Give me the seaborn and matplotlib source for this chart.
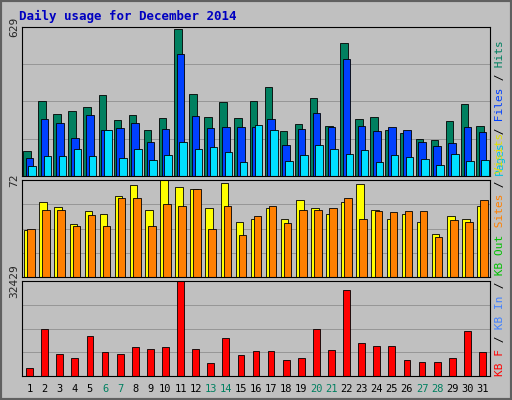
import numpy as np
import pandas as pd
import seaborn as sns
import matplotlib.pyplot as plt

days = list(range(1, 32))
hits = [105, 317, 262, 274, 291, 342, 236, 257, 194, 245, 620, 346, 249, 312, 245, 317,
        376, 190, 220, 329, 211, 561, 241, 249, 194, 182, 156, 152, 232, 304, 211]
files = [76, 241, 224, 160, 257, 194, 203, 224, 144, 198, 515, 253, 203, 207, 207, 207,
         241, 131, 198, 266, 207, 494, 211, 190, 207, 194, 144, 127, 139, 207, 186]
pages = [42, 84, 84, 114, 84, 194, 76, 114, 68, 89, 144, 114, 122, 101, 59, 215,
         194, 63, 89, 131, 114, 93, 110, 59, 89, 80, 72, 46, 93, 63, 68]
visits = [35, 56, 52, 39, 49, 47, 60, 68, 50, 72, 67, 65, 51, 70, 41, 43,
          51, 43, 57, 51, 47, 56, 69, 50, 43, 47, 41, 32, 45, 43, 53]
sites = [36, 50, 50, 38, 46, 38, 59, 59, 38, 54, 53, 65, 36, 53, 31, 45,
         53, 40, 50, 50, 51, 59, 43, 49, 48, 49, 49, 30, 42, 41, 57]
kbytes = [2820, 16200, 7400, 6000, 13700, 8100, 7400, 9900, 9100, 9900, 32429, 9100,
          4600, 13000, 7000, 8500, 8500, 5600, 6000, 15900, 8800, 29300, 11300, 10200,
          10200, 5600, 4900, 4900, 6300, 15500, 8100]
weekend = [6, 7, 13, 14, 20, 21, 27, 28]

sns.set_style("white")
plt.rcParams['font.family'] = ['DejaVu Sans Mono']
BG = "#C0C0C0"
fig = plt.figure(figsize=(5.12, 4.0), dpi=100, facecolor=BG)
fig.patches.append(plt.Rectangle((0, 0), 1, 1, transform=fig.transFigure,
                                 fill=False, edgecolor="#606060", lw=3))
fig.text(19 / 512, 1 - 16 / 400, "Daily usage for December 2014", color="#0000C0",
         fontsize=9, fontweight="bold", va="center")

def panel(top, bot):
    ax = fig.add_axes([22 / 512, 1 - bot / 400, 468 / 512, (bot - top) / 400])
    ax.set_facecolor(BG)
    for s in ax.spines.values():
        s.set_color("black")
    ax.set_xlim(0.5, 31.5)
    return ax

def bars(ax, vals, off, color, w=0.5):
    df = pd.DataFrame({"x": [d + off for d in days], "y": vals})
    sns.barplot(data=df, x="x", y="y", native_scale=True, width=w, color=color,
                edgecolor="black", linewidth=0.6, saturation=1, ax=ax)

ax1 = panel(27, 176)
bars(ax1, hits, -0.18, "#008060")
bars(ax1, files, 0.0, "#0040FF")
bars(ax1, pages, 0.18, "#00E0FF")
ax1.set_ylim(0, 629)

ax2 = panel(180, 277)
bars(ax2, visits, -0.1, "#FFFF00")
bars(ax2, sites, 0.1, "#FF8000")
ax2.set_ylim(0, 72)

ax3 = panel(281, 376)
bars(ax3, kbytes, 0.0, "#FF0000", w=0.45)
ax3.set_ylim(0, 32429)

for ax, top in [(ax1, 629), (ax2, 72), (ax3, 32429)]:
    ax.set_yticks([top])
    ax.set_yticklabels([str(top)], rotation=90, va="center", fontsize=8)
    for q in (0.25, 0.5, 0.75):
        ax.axhline(top * q, color="#909090", lw=0.6, zorder=0)
    ax.tick_params(axis="y", length=0, pad=2)
    ax.set_xlabel("")
    ax.set_ylabel("")
    ax.set_xticks([])

ax3.set_xticks(days)
ax3.set_xticklabels([str(d) for d in days], fontsize=7.5)
for lbl, d in zip(ax3.get_xticklabels(), days):
    lbl.set_color("#008060" if d in weekend else "black")
ax3.tick_params(axis="x", length=0, pad=6)

renderer = fig.canvas.get_renderer()

def side(parts, y0):
    y = y0
    for txt, col in parts:
        t = fig.text(500 / 512, y, txt, color=col, rotation=90, fontsize=8,
                     ha="center", va="bottom")
        h = t.get_window_extent(renderer).height
        y += h / fig.bbox.height
        if txt.endswith(" "):
            pass

side([("Pages", "#00C0E0"), (" /", "black"), (" Files", "#0040FF"),
      (" /", "black"), (" Hits", "#008060")], 1 - 175 / 400)
side([("KB F", "#FF0000"), (" /", "black"), (" KB In", "#4080FF"), (" /", "black"),
      (" KB Out", "#00C000"), (" Sites", "#FF8000"), (" /", "black"),
      (" Visits", "#E0E000")], 1 - 376 / 400)

fig.savefig("out.png", dpi=100, facecolor=BG)
